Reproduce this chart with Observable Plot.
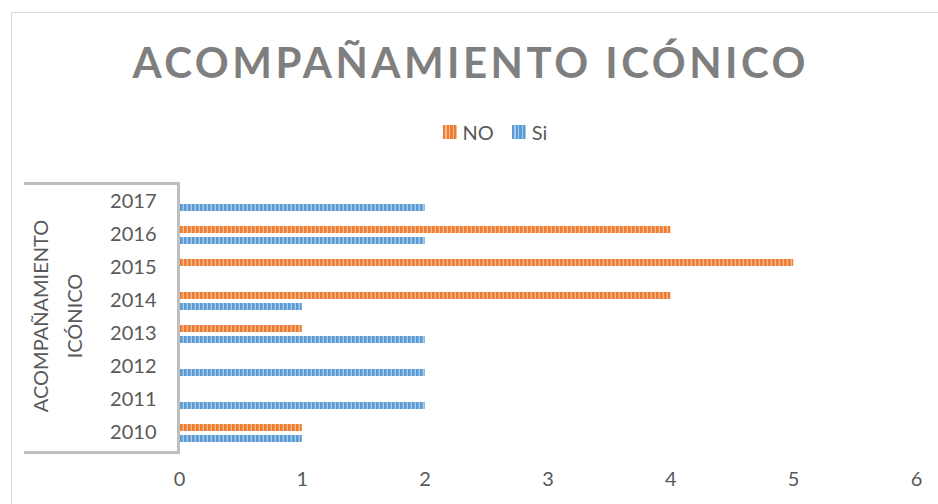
<!DOCTYPE html>
<html>
<head>
<meta charset="utf-8">
<script src="https://cdn.jsdelivr.net/npm/d3@7"></script>
<script src="https://cdn.jsdelivr.net/npm/@observablehq/plot@0.6"></script>
<style>
  html, body { margin: 0; padding: 0; background: #fff; }
  #wrap { position: relative; width: 938px; height: 504px; overflow: hidden; font-family: Lato, "Open Sans", sans-serif; }
  #frame { position: absolute; left: 11px; top: 12px; width: 1000px; height: 600px; border-left: 1.5px solid #d9d9d9; border-top: 1.5px solid #d9d9d9; }
  #title { position: absolute; left: 0; width: 938px; top: 37px; text-align: center; font-weight: 700; font-size: 42px; color: #7f7f7f; white-space: nowrap; line-height: 50px; }
  #legend { position: absolute; left: 26px; width: 938px; top: 120px; display: flex; justify-content: center; align-items: center; font-size: 20px; color: #595959; line-height: 24px; }
  .sw { display: inline-block; width: 14px; height: 14px; margin-right: 6px; }
  .item { display: flex; align-items: center; margin: 0 9px; }
  #box { position: absolute; left: 24px; top: 182px; width: 153px; height: 266px; border-top: 3px solid #bfbfbf; border-right: 3px solid #bfbfbf; border-bottom: 3px solid #bfbfbf; }
  #ytitle { position: absolute; left: 57px; top: 316px; transform: translate(-50%, -50%) rotate(-90deg); font-size: 20px; color: #595959; text-align: center; line-height: 34px; white-space: nowrap; }
  #chart { position: absolute; left: 0; top: 0; }
</style>
</head>
<body>
<div id="wrap">
  <div id="frame"></div>
  <div id="chart"></div>
  <div id="box"></div>
  <div id="ytitle">ACOMPAÑAMIENTO<br>ICÓNICO</div>
  <div id="title">ACOMPAÑAMIENTO ICÓNICO</div>
  <div id="legend"></div>
</div>
<script>
const years = ["2017", "2016", "2015", "2014", "2013", "2012", "2011", "2010"];
const siValues = [2, 2, 0, 1, 2, 2, 2, 1];
const noValues = [0, 4, 5, 4, 1, 0, 0, 1];
const xTicks = [0, 1, 2, 3, 4, 5, 6];
const seriesNames = ["NO", "Si"];
const seriesColors = { NO: ["#ED7D31", "#F6B88E"], Si: ["#5B9BD5", "#A9CBEB"] };

const siData = years.map((y, i) => ({ year: y, value: siValues[i] }));
const noData = years.map((y, i) => ({ year: y, value: noValues[i] }));

const plot = Plot.plot({
  width: 938,
  height: 504,
  marginLeft: 179,
  marginRight: 22,
  marginTop: 183,
  marginBottom: 54,
  style: { fontFamily: "Lato, 'Open Sans', sans-serif", fontSize: "20px", color: "#595959", background: "transparent" },
  x: { domain: [0, 6], ticks: xTicks, tickFormat: d3.format("d"), tickSize: 0, tickPadding: 21, label: null },
  y: { domain: years, padding: 0, tickSize: 0, tickPadding: 23, label: null },
  marks: [
    Plot.barX(noData.filter(d => d.value > 0), { x: "value", y: "year", fill: "url(#patNO)", insetTop: 8, insetBottom: 18 }),
    Plot.barX(siData.filter(d => d.value > 0), { x: "value", y: "year", fill: "url(#patSi)", insetTop: 19, insetBottom: 7 })
  ]
});

const defs = d3.select(plot).insert("defs", ":first-child");
for (const s of seriesNames) {
  const p = defs.append("pattern").attr("id", "pat" + s).attr("patternUnits", "userSpaceOnUse").attr("width", 4).attr("height", 4);
  p.append("rect").attr("width", 4).attr("height", 4).attr("fill", seriesColors[s][1]);
  p.append("rect").attr("width", 2.6).attr("height", 4).attr("fill", seriesColors[s][0]);
}
d3.select(plot).selectAll("text").attr("fill", "#595959");
document.getElementById("chart").appendChild(plot);

// legend
const leg = d3.select("#legend");
for (const s of seriesNames) {
  const it = leg.append("div").attr("class", "item");
  it.append("span").attr("class", "sw")
    .style("background", `repeating-linear-gradient(90deg, ${seriesColors[s][0]} 0 2.4px, ${seriesColors[s][1]} 2.4px 3.6px)`);
  it.append("span").text(s);
}

// title letter spacing to target width
const title = document.getElementById("title");
const ctx = document.createElement("canvas").getContext("2d");
ctx.font = "700 42px Lato";
const txt = title.textContent;
const natural = ctx.measureText(txt).width;
const target = 673;
const ls = (target - natural) / (txt.length - 1);
title.style.letterSpacing = ls + "px";
title.style.textIndent = ls + "px";
</script>
</body>
</html>
